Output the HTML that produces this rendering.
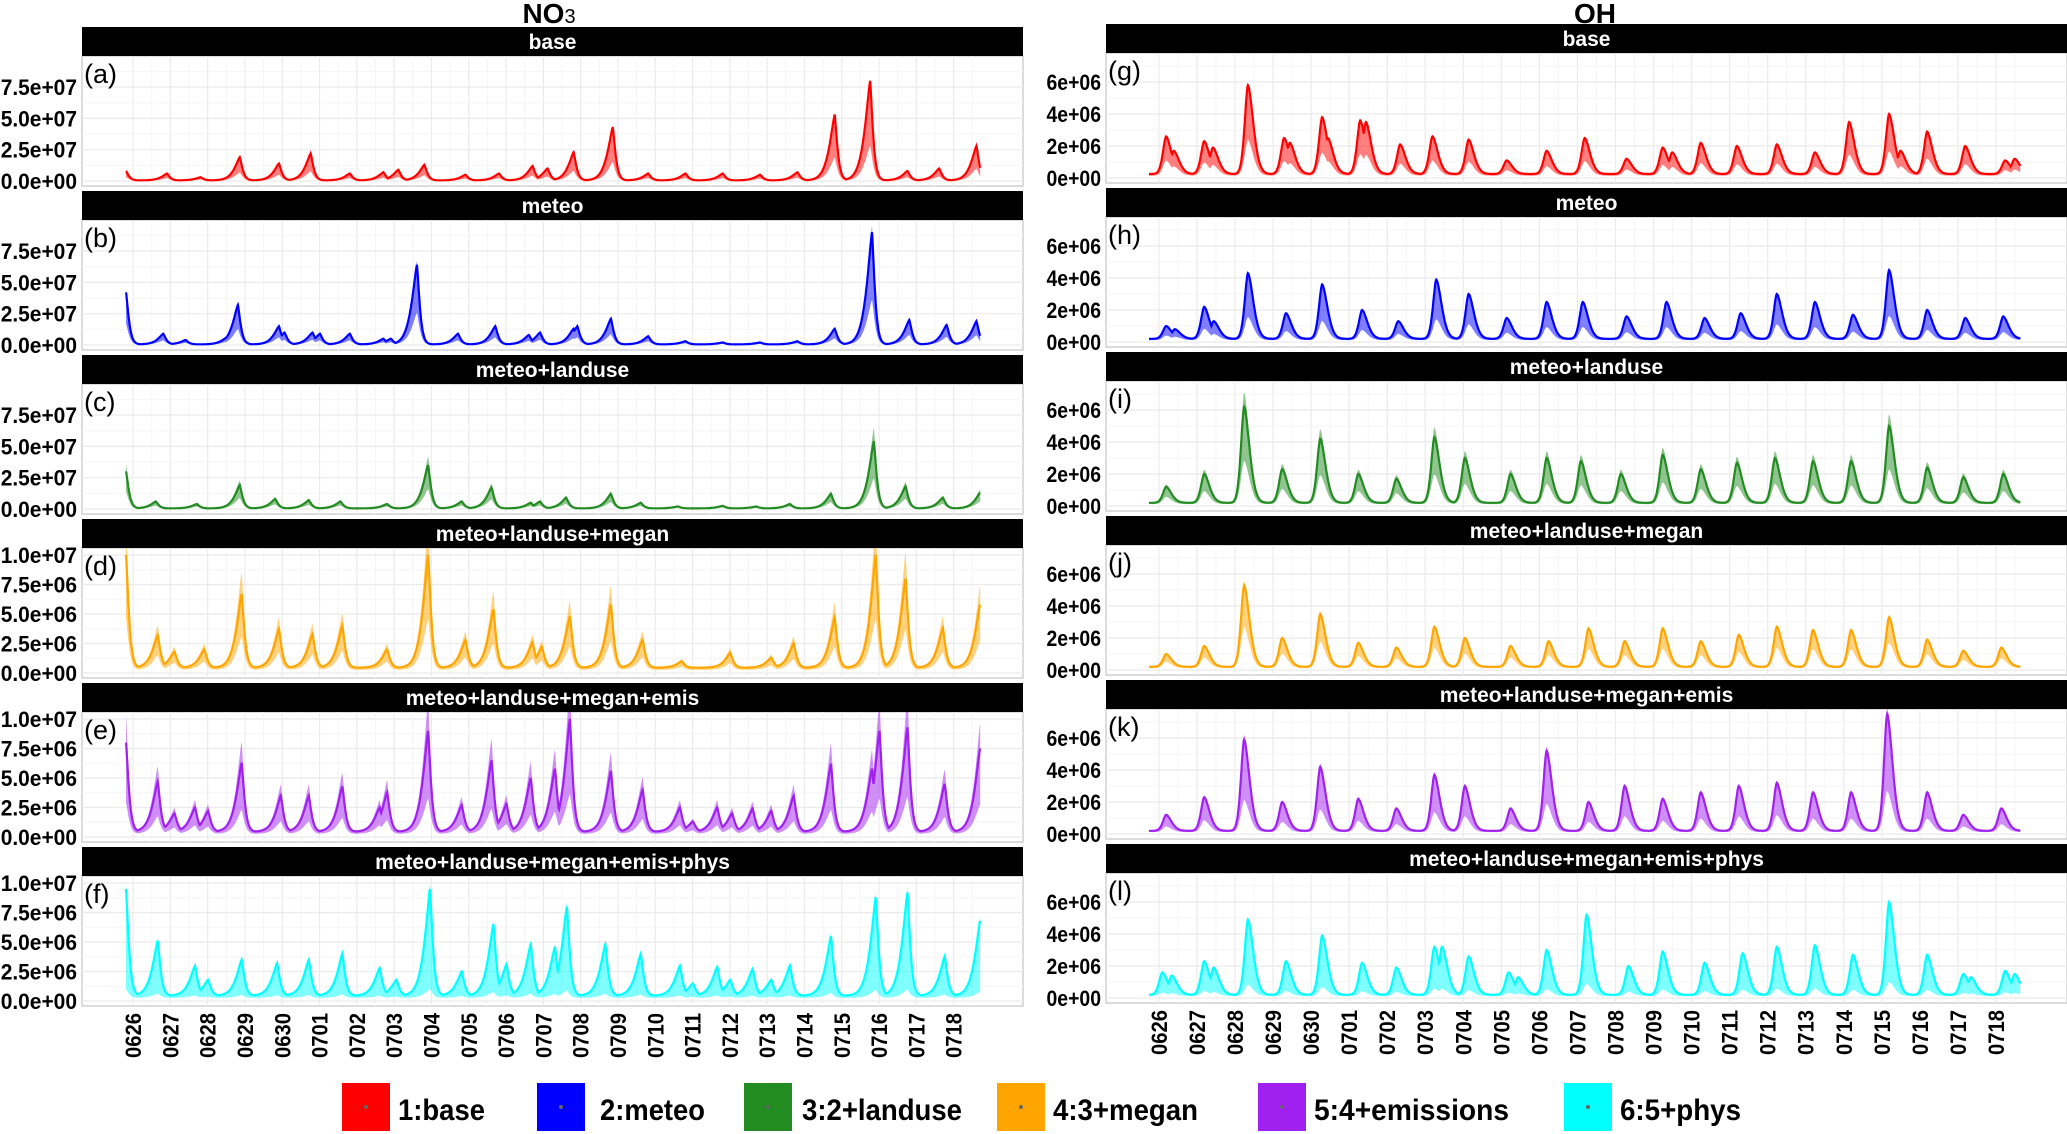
<!DOCTYPE html>
<html><head><meta charset="utf-8"><style>
html,body{margin:0;padding:0;background:#fff;}
svg{display:block;font-family:"Liberation Sans",sans-serif;}
</style></head><body>
<svg id="fig" width="2067" height="1134" viewBox="0 0 2067 1134" xmlns="http://www.w3.org/2000/svg">
<defs id="defs"></defs>
<text x="549" y="23" font-size="28" font-weight="bold" text-anchor="middle">NO<tspan font-size="20" font-weight="normal">3</tspan></text>
<text x="1595" y="23" font-size="28" font-weight="bold" text-anchor="middle">OH</text>
<g id="panels"></g>
<g id="legend"></g>
</svg>
<script>
const dayLabels = ["0626","0627","0628","0629","0630","0701","0702","0703","0704","0705","0706","0707","0708","0709","0710","0711","0712","0713","0714","0715","0716","0717","0718"];
const panelTitles = ["base","meteo","meteo+landuse","meteo+landuse+megan","meteo+landuse+megan+emis","meteo+landuse+megan+emis+phys"];
const legendLabels = ["1:base","2:meteo","3:2+landuse","4:3+megan","5:4+emissions","6:5+phys"];
const no3TicksBig = [0,2.5,5,7.5];
const no3TickLabelsBig = ["0.0e+00","2.5e+07","5.0e+07","7.5e+07"];
const no3TicksSmall = [0,2.5,5,7.5,10];
const no3TickLabelsSmall = ["0.0e+00","2.5e+06","5.0e+06","7.5e+06","1.0e+07"];
const ohTicks = [0,2,4,6];
const ohTickLabels = ["0e+00","2e+06","4e+06","6e+06"];

const peaksA = [[0.0,0.8],[1.1,0.6],[2.0,0.3],[3.05,1.9],[4.1,1.4],[4.95,2.2],[6.0,0.6],[6.9,0.7],[7.3,0.9],[8.0,1.3],[9.1,0.5],[10.0,0.6],[10.9,1.2],[11.3,1.0],[12.0,2.3],[13.05,4.3],[14.0,0.6],[15.0,0.6],[16.0,0.6],[17.0,0.5],[18.0,0.7],[19.0,5.3],[19.95,8.0],[20.95,0.8],[21.8,1.0],[22.8,2.8]];
const peaksB = [[0.0,4.2],[1.0,0.9],[1.6,0.4],[2.7,0.6],[3.0,3.2],[4.1,1.5],[4.25,1.0],[5.0,1.0],[5.2,0.9],[6.0,0.9],[6.9,0.5],[7.1,0.5],[7.8,6.4],[8.9,0.9],[9.9,1.5],[10.8,0.8],[11.1,1.0],[12.0,1.3],[12.1,1.5],[13.0,2.1],[14.0,0.7],[15.0,0.3],[16.0,0.2],[17.0,0.2],[18.0,0.3],[19.0,1.3],[20.0,9.0],[21.0,2.0],[22.0,1.6],[22.8,1.9]];
const peaksC = [[0.0,3.0],[0.8,0.6],[1.9,0.4],[3.05,1.9],[4.0,0.8],[4.9,0.7],[5.75,0.6],[7.0,0.4],[8.1,3.5],[9.0,0.6],[9.8,1.7],[10.85,0.5],[11.1,0.6],[11.8,0.9],[13.0,1.2],[13.8,0.5],[14.8,0.2],[16.0,0.25],[16.9,0.2],[17.8,0.4],[18.9,1.2],[20.05,5.4],[20.9,1.8],[21.9,0.9],[22.9,1.3]];
const peaksD = [[0.0,10],[0.85,3.2],[1.3,1.8],[2.1,2.0],[3.1,6.7],[4.1,3.7],[5.0,3.3],[5.8,4.0],[7.0,2.0],[8.1,10],[9.1,2.8],[9.85,5.4],[10.9,2.6],[11.15,2.2],[11.9,4.8],[13.0,5.8],[13.85,2.8],[14.9,1.0],[16.2,1.7],[17.3,1.3],[17.9,2.5],[19.0,4.7],[20.1,10],[20.9,8.0],[21.9,3.8],[22.9,5.8]];
const peaksE = [[0.0,8.0],[0.85,4.7],[1.3,2.0],[1.85,2.5],[2.2,2.2],[3.1,6.3],[4.15,3.5],[4.9,3.5],[5.8,4.3],[6.8,2.5],[7.0,3.8],[8.1,9.0],[9.0,2.7],[9.8,6.5],[10.2,2.8],[10.85,5.0],[11.5,5.8],[11.9,10],[13.0,5.6],[13.85,4.0],[14.85,2.5],[15.2,1.3],[15.85,2.5],[16.25,2.0],[16.8,2.4],[17.3,2.2],[17.9,3.5],[18.9,6.2],[20.0,5.8],[20.2,9.0],[20.95,9.3],[21.95,4.5],[22.7,1.6],[22.9,7.5]];
const peaksF = [[0.0,9.5],[0.85,5.1],[1.85,3.0],[2.2,1.8],[3.1,3.5],[4.05,3.2],[4.9,3.5],[5.8,4.0],[6.8,2.8],[7.25,1.8],[8.15,9.5],[9.0,2.5],[9.85,6.5],[10.2,3.1],[10.85,4.8],[11.5,4.6],[11.82,8.0],[12.85,4.8],[13.8,4.0],[14.85,3.0],[15.2,1.5],[15.85,2.9],[16.2,1.8],[16.8,2.7],[17.3,1.8],[17.8,3.0],[18.9,5.5],[20.1,8.8],[20.95,9.2],[21.95,3.8],[22.9,6.8]];
const peaksG = [[0.45,2.6],[0.65,1.7],[1.45,2.3],[1.68,1.9],[2.6,5.8],[3.55,2.5],[3.7,2.2],[4.55,3.8],[4.7,2.5],[5.55,3.6],[5.7,3.5],[6.6,2.1],[7.45,2.6],[8.4,2.4],[9.4,1.1],[10.45,1.7],[11.45,2.5],[12.55,1.2],[13.5,1.9],[13.75,1.6],[14.5,2.2],[15.45,2.0],[16.5,2.1],[17.5,1.6],[18.4,3.5],[19.45,4.0],[19.75,1.7],[20.45,2.9],[21.45,2.0],[22.5,1.1],[22.75,1.2]];
const peaksH = [[0.45,1.0],[0.68,0.8],[1.45,2.2],[1.7,1.3],[2.6,4.3],[3.6,1.8],[4.55,3.6],[5.6,2.0],[6.55,1.3],[7.55,3.9],[8.4,3.0],[9.4,1.5],[10.45,2.5],[11.4,2.5],[12.55,1.6],[13.6,2.5],[14.6,1.5],[15.55,1.8],[16.5,3.0],[17.5,2.5],[18.5,1.7],[19.45,4.5],[20.45,2.0],[21.45,1.5],[22.45,1.6]];
const peaksI = [[0.45,1.2],[1.45,2.0],[2.5,6.2],[3.5,2.3],[4.5,4.2],[5.5,2.0],[6.5,1.7],[7.5,4.3],[8.3,3.0],[9.5,2.0],[10.45,3.0],[11.35,2.8],[12.4,2.0],[13.5,3.2],[14.5,2.3],[15.45,2.7],[16.45,3.0],[17.45,2.8],[18.45,2.8],[19.45,5.0],[20.45,2.4],[21.4,1.8],[22.45,2.0]];
const peaksJ = [[0.45,1.0],[1.45,1.5],[2.5,5.3],[3.5,2.0],[4.5,3.5],[5.5,1.7],[6.5,1.4],[7.5,2.7],[8.3,2.0],[9.5,1.5],[10.5,1.8],[11.55,2.6],[12.5,1.8],[13.5,2.6],[14.5,1.8],[15.5,2.2],[16.5,2.7],[17.45,2.5],[18.45,2.5],[19.45,3.3],[20.45,1.9],[21.4,1.2],[22.4,1.4]];
const peaksK = [[0.45,1.2],[1.45,2.3],[2.5,5.9],[3.5,2.0],[4.5,4.2],[5.5,2.2],[6.5,1.6],[7.5,3.7],[8.3,3.0],[9.5,1.6],[10.45,5.2],[11.55,2.0],[12.5,3.0],[13.5,2.2],[14.5,2.6],[15.5,3.0],[16.5,3.2],[17.45,2.6],[18.45,2.6],[19.4,7.5],[20.45,2.6],[21.4,1.2],[22.4,1.6]];
const peaksL = [[0.35,1.6],[0.6,1.4],[1.45,2.3],[1.7,1.9],[2.6,4.9],[3.6,2.3],[4.55,3.9],[5.6,2.2],[6.5,1.9],[7.5,3.2],[7.7,3.2],[8.4,2.6],[9.45,1.6],[9.7,1.3],[10.45,3.0],[11.5,5.2],[12.6,2.0],[13.5,2.9],[14.6,2.2],[15.6,2.8],[16.5,3.2],[17.5,3.3],[18.5,2.7],[19.45,6.0],[20.45,2.7],[21.4,1.5],[21.6,1.3],[22.5,1.7],[22.75,1.5]];

const colors = ["#ff0000","#0000ff","#228b22","#ffa500","#a020f0","#00ffff"];
const NS = "http://www.w3.org/2000/svg";
const root = document.getElementById("panels");
const defs = document.getElementById("defs");
function mk(tag, attrs, parent){const e=document.createElementNS(NS,tag);for(const k in attrs)e.setAttribute(k,attrs[k]);(parent||root).appendChild(e);return e;}

const panels = [
 {side:0,i:0,peaks:peaksA,ppu:12.53,ticks:no3TicksBig,labels:no3TickLabelsBig,base:0.05,lo:0.35,hi:1.0,tag:"(a)",kind:"no3"},
 {side:0,i:1,peaks:peaksB,ppu:12.53,ticks:no3TicksBig,labels:no3TickLabelsBig,base:0.05,lo:0.4,hi:1.05,tag:"(b)",kind:"no3"},
 {side:0,i:2,peaks:peaksC,ppu:12.53,ticks:no3TicksBig,labels:no3TickLabelsBig,base:0.05,lo:0.45,hi:1.2,tag:"(c)",kind:"no3"},
 {side:0,i:3,peaks:peaksD,ppu:11.8,ticks:no3TicksSmall,labels:no3TickLabelsSmall,base:0.45,lo:0.45,hi:1.3,tag:"(d)",kind:"no3"},
 {side:0,i:4,peaks:peaksE,ppu:11.8,ticks:no3TicksSmall,labels:no3TickLabelsSmall,base:0.45,lo:0.35,hi:1.3,tag:"(e)",kind:"no3"},
 {side:0,i:5,peaks:peaksF,ppu:11.8,ticks:no3TicksSmall,labels:no3TickLabelsSmall,base:0.45,lo:0.08,hi:1.05,tag:"(f)",kind:"no3"},
 {side:1,i:0,peaks:peaksG,ppu:16,ticks:ohTicks,labels:ohTickLabels,base:0.25,lo:0.4,hi:1.0,tag:"(g)",kind:"oh"},
 {side:1,i:1,peaks:peaksH,ppu:16,ticks:ohTicks,labels:ohTickLabels,base:0.2,lo:0.35,hi:1.0,tag:"(h)",kind:"oh"},
 {side:1,i:2,peaks:peaksI,ppu:16,ticks:ohTicks,labels:ohTickLabels,base:0.2,lo:0.45,hi:1.15,tag:"(i)",kind:"oh"},
 {side:1,i:3,peaks:peaksJ,ppu:16,ticks:ohTicks,labels:ohTickLabels,base:0.2,lo:0.5,hi:1.05,tag:"(j)",kind:"oh"},
 {side:1,i:4,peaks:peaksK,ppu:16,ticks:ohTicks,labels:ohTickLabels,base:0.2,lo:0.35,hi:1.05,tag:"(k)",kind:"oh"},
 {side:1,i:5,peaks:peaksL,ppu:16,ticks:ohTicks,labels:ohTickLabels,base:0.2,lo:0.15,hi:1.0,tag:"(l)",kind:"oh"}
];

function bump(kind,dt){
  if(kind==="no3"){const w=dt<0?0.2:0.1;return Math.exp(-Math.pow(Math.abs(dt)/w,1.3));}
  const w=dt<0?0.12:0.2;return Math.exp(-Math.pow(Math.abs(dt)/w,1.7));
}

panels.forEach(p=>{
  const left = p.side===0 ? 82 : 1106;
  const right = p.side===0 ? 1023 : 2067;
  const top = (p.side===0 ? 27 : 24) + 164*p.i;
  const x0 = p.side===0 ? 126 : 1149;
  const pd = p.side===0 ? 37.3 : 38.05;
  const labOff = p.side===0 ? 0.19 : 0.26;
  const xs = d => x0 + pd*d;
  const zero = top + 154;
  const ys = v => zero - v*p.ppu;
  const g = mk("g",{});
  
  
  const pt = top+29, pb = top+159;
  const cid = "clip"+p.side+p.i;
  const cp = mk("clipPath",{id:cid},defs);
  mk("rect",{x:left,y:pt,width:right-left,height:pb-pt},cp);
  const bg = mk("rect",{x:left,y:pt,width:right-left,height:pb-pt,fill:"#fff",stroke:"#d0d0d0","stroke-width":1.5},g);
  
  
  for(let d=0; d<dayLabels.length; d++){
    const xm = xs(d+labOff), xn = xs(d+labOff+0.5);
    mk("line",{x1:xm,x2:xm,y1:pt,y2:pb,stroke:"#ebebeb","stroke-width":1.2},g);
    if(xn<right) mk("line",{x1:xn,x2:xn,y1:pt,y2:pb,stroke:"#f5f5f5","stroke-width":1},g);
  }
  p.ticks.forEach((t,k)=>{
    const y = ys(t);
    mk("line",{x1:left,x2:right,y1:y,y2:y,stroke:"#ebebeb","stroke-width":1.2},g);
    if(k<p.ticks.length-1){const ym=ys((t+p.ticks[k+1])/2);mk("line",{x1:left,x2:right,y1:ym,y2:ym,stroke:"#f5f5f5","stroke-width":1},g);}
    else {const ym=ys(t+(t-p.ticks[k-1])/2); if(ym>pt) mk("line",{x1:left,x2:right,y1:ym,y2:ym,stroke:"#f5f5f5","stroke-width":1},g);}
    const tl = mk("text",{x:left-5,y:y+8,"font-size":22,"font-weight":"bold","text-anchor":"end",textLength:p.labels[k].length*10.9,lengthAdjust:"spacingAndGlyphs"},g);
    tl.textContent = p.labels[k];
    
    
  });
  const ptsLine=[], ptsLo=[], ptsHi=[];
  for(let t=0; t<=22.9001; t+=0.01){
    let m=0;
    for(const [d,v] of p.peaks){const b=(v-p.base)*bump(p.kind,t-d); if(b>m)m=b;}
    const line=p.base+m, lo=p.base*0.6+m*p.lo, hi=p.base+m*p.hi;
    ptsLine.push([xs(t),ys(line)]); ptsLo.push([xs(t),ys(lo)]); ptsHi.push([xs(t),ys(Math.max(hi,line))]);
  }
  const sg = mk("g",{"clip-path":`url(#${cid})`},g);
  const bandD = "M"+ptsHi.map(q=>q[0].toFixed(1)+","+q[1].toFixed(1)).join("L")+"L"+ptsLo.slice().reverse().map(q=>q[0].toFixed(1)+","+q[1].toFixed(1)).join("L")+"Z";
  const band = mk("path",{d:bandD,fill:colors[p.i],"fill-opacity":0.5,stroke:"none"},sg);
  
  
  const ln = mk("path",{d:"M"+ptsLine.map(q=>q[0].toFixed(1)+","+q[1].toFixed(1)).join("L"),fill:"none",stroke:colors[p.i],"stroke-width":2.2},sg);
  
  
  const strip = mk("rect",{x:left,y:top,width:right-left,height:29,fill:"#000"},g);
  
  
  const st = mk("text",{x:(left+right)/2,y:top+22,"font-size":21,"font-weight":"bold",fill:"#fff","text-anchor":"middle"},g);
  st.textContent = panelTitles[p.i];
  
  
  const tg = mk("text",{x:left+2,y:top+56,"font-size":27},g);
  tg.textContent = p.tag;
  
  
  if(p.i===5){
    dayLabels.forEach((lab,d)=>{
      const x = xs(d+labOff)+8;
      const t = mk("text",{x:0,y:0,"font-size":22,"font-weight":"bold","text-anchor":"end",textLength:45,lengthAdjust:"spacingAndGlyphs",transform:`translate(${x.toFixed(1)},${top+166}) rotate(-90)`},g);
      t.textContent = lab;
      
      
    });
  }
});

const lg = document.getElementById("legend");
const legBoxX = [342,537,744,997,1258,1564];
const legTextX = [398,600,802,1053,1314,1620];
const legTextW = [87,105,160,145,195,121];
legendLabels.forEach((lab,k)=>{
  const r = mk("rect",{x:legBoxX[k],y:1083,width:48,height:48,fill:colors[k]},lg);
  
  
  mk("circle",{cx:legBoxX[k]+24,cy:1107,r:2,fill:"#666"},lg);
  const t = mk("text",{x:legTextX[k],y:1120,"font-size":30,"font-weight":"bold",textLength:legTextW[k],lengthAdjust:"spacingAndGlyphs"},lg);
  t.textContent = lab;
  
  
});
</script>
</body></html>
